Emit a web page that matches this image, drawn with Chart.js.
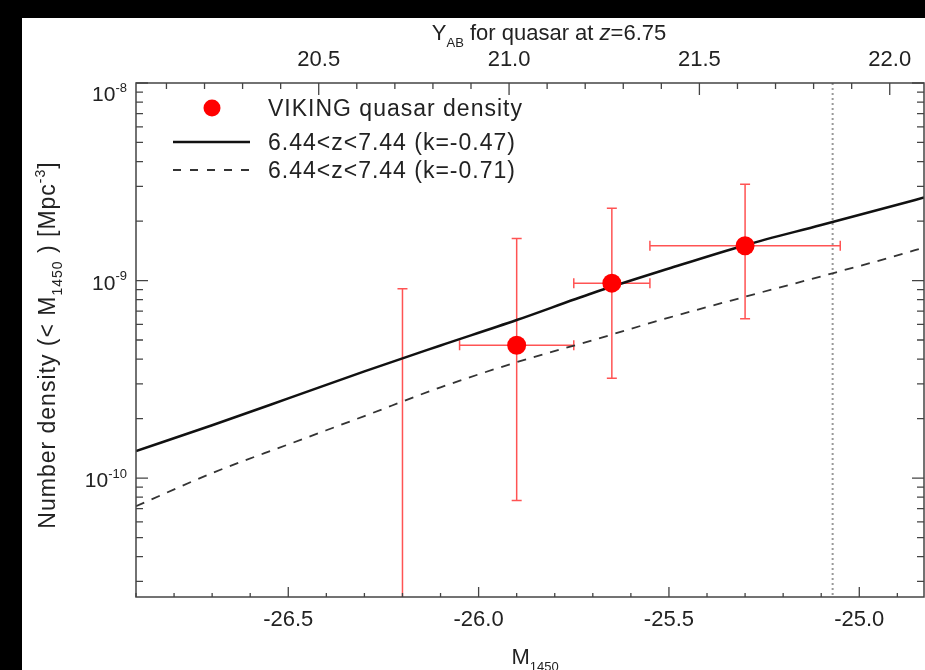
<!DOCTYPE html>
<html>
<head>
<meta charset="utf-8">
<script src="https://cdn.jsdelivr.net/npm/chart.js@4.4.0/dist/chart.umd.min.js"></script>
<style>
html, body { margin: 0; padding: 0; background: #000; }
canvas { display: block; }
</style>
</head>
<body>
<canvas id="lfChart" width="925" height="670"></canvas>
<script>
// M1450 grid for the model curves
const mGrid = [-26.9, -26.7, -26.5, -26.3, -26.1, -25.9, -25.7, -25.5, -25.3, -25.1, -24.9, -24.83];
// cumulative number density, k = -0.47
const densK047 = [1.37e-10, 1.85e-10, 2.53e-10, 3.47e-10, 4.69e-10, 6.31e-10, 8.65e-10, 1.15e-9, 1.51e-9, 1.91e-9, 2.42e-9, 2.63e-9];
// cumulative number density, k = -0.71
const densK071 = [7.2e-11, 1.06e-10, 1.48e-10, 2.06e-10, 2.88e-10, 3.86e-10, 4.99e-10, 6.49e-10, 8.28e-10, 1.05e-9, 1.34e-9, 1.47e-9];

// VIKING quasar densities with error ranges
const vikM = [-26.2, -25.9, -25.65, -25.3];
const vikDens = [1.5e-11, 4.7e-10, 9.7e-10, 1.5e-9];
const vikMLo = [-26.2, -26.05, -25.75, -25.55];
const vikMHi = [-26.2, -25.75, -25.55, -25.05];
const vikDensLo = [1e-12, 7.7e-11, 3.2e-10, 6.4e-10];
const vikDensHi = [9.1e-10, 1.63e-9, 2.32e-9, 3.07e-9];

// survey limit
const limitM = -25.07;

// axis ranges and tick labels
const xMin = -26.9, xMax = -24.83;
const yMin = 2.5e-11, yMax = 1e-8;
const yabOffset = 46.92;            // Y_AB = M1450 + offset at z=6.75
const yDecades = [-8, -9, -10];

const legendLabels = ['VIKING quasar density', '6.44<z<7.44 (k=-0.47)', '6.44<z<7.44 (k=-0.71)'];

const FONT = '"Liberation Sans", Arial, Helvetica, sans-serif';
const INK = '#222';

// text with sub/superscripts, parts = [{t, s:'sub'|'sup', i:italic}]
function richText(ctx, parts, x, y, size, align, spacing) {
  const small = Math.round(size * 0.6);
  const fontOf = p => (p.i ? 'italic ' : '') + (p.s ? small : size) + 'px ' + FONT;
  ctx.letterSpacing = (spacing || 0) + 'px';
  let w = 0;
  parts.forEach(p => { ctx.font = fontOf(p); p.w = ctx.measureText(p.t).width; w += p.w; });
  let cx = align === 'center' ? x - w / 2 : align === 'right' ? x - w : x;
  ctx.textAlign = 'left';
  ctx.textBaseline = 'alphabetic';
  parts.forEach(p => {
    ctx.font = fontOf(p);
    const dy = p.s === 'sub' ? size * 0.3 : p.s === 'sup' ? -size * 0.45 : 0;
    ctx.fillText(p.t, cx, y + dy);
    cx += p.w;
  });
  ctx.letterSpacing = '0px';
}

const toXY = (xs, ys) => xs.map((x, i) => ({ x: x, y: ys[i] }));

// error bars and limit line, under the markers
const errorBars = {
  id: 'errorBars',
  beforeDatasetsDraw(chart) {
    const { ctx, chartArea: a, scales } = chart;
    const sx = scales.x, sy = scales.y;
    ctx.save();
    ctx.beginPath();
    ctx.rect(a.left, a.top, a.right - a.left, a.bottom - a.top);
    ctx.clip();

    // limit line
    ctx.strokeStyle = '#999';
    ctx.lineWidth = 2;
    ctx.setLineDash([2, 3]);
    const lx = sx.getPixelForValue(limitM);
    ctx.beginPath();
    ctx.moveTo(lx, a.top);
    ctx.lineTo(lx, a.bottom);
    ctx.stroke();
    ctx.setLineDash([]);

    ctx.strokeStyle = 'rgba(255, 40, 40, 0.8)';
    ctx.lineWidth = 1.5;
    const cap = 5;
    vikM.forEach((m, i) => {
      const px = sx.getPixelForValue(m);
      const py = sy.getPixelForValue(vikDens[i]);
      const yTop = sy.getPixelForValue(vikDensHi[i]);
      const yBot = sy.getPixelForValue(vikDensLo[i]);
      ctx.beginPath();
      ctx.moveTo(px, yTop); ctx.lineTo(px, yBot);
      ctx.moveTo(px - cap, yTop); ctx.lineTo(px + cap, yTop);
      ctx.moveTo(px - cap, yBot); ctx.lineTo(px + cap, yBot);
      if (vikMHi[i] > vikMLo[i]) {
        const xl = sx.getPixelForValue(vikMLo[i]);
        const xr = sx.getPixelForValue(vikMHi[i]);
        ctx.moveTo(xl, py); ctx.lineTo(xr, py);
        ctx.moveTo(xl, py - cap); ctx.lineTo(xl, py + cap);
        ctx.moveTo(xr, py - cap); ctx.lineTo(xr, py + cap);
      }
      ctx.stroke();
    });
    ctx.restore();
  }
};

// white panel behind the plot
const panel = {
  id: 'panel',
  beforeDraw(chart) {
    const ctx = chart.ctx;
    ctx.save();
    ctx.fillStyle = '#000';
    ctx.fillRect(0, 0, chart.width, chart.height);
    ctx.fillStyle = '#fff';
    ctx.fillRect(22, 18, chart.width - 22, chart.height - 18);
    ctx.restore();
  }
};

// frame, inward ticks, log labels, titles and legend
const frame = {
  id: 'frame',
  afterDraw(chart) {
    const { ctx, chartArea: a, scales } = chart;
    const sx = scales.x, sx2 = scales.x2, sy = scales.y;
    ctx.save();
    ctx.strokeStyle = '#444';
    ctx.lineWidth = 1.5;
    ctx.strokeRect(a.left, a.top, a.right - a.left, a.bottom - a.top);

    ctx.lineWidth = 1.3;
    ctx.beginPath();
    for (let v = Math.ceil(xMin * 10); v <= xMax * 10; v++) {
      const px = sx.getPixelForValue(v / 10);
      const len = v % 5 === 0 ? 10 : 4;
      ctx.moveTo(px, a.bottom); ctx.lineTo(px, a.bottom - len);
    }
    for (let v = Math.ceil((xMin + yabOffset) * 10); v <= (xMax + yabOffset) * 10; v++) {
      const px = sx2.getPixelForValue(v / 10);
      const len = v % 5 === 0 ? 12 : 6;
      ctx.moveTo(px, a.top); ctx.lineTo(px, a.top + len);
    }
    for (let e = -11; e <= -8; e++) {
      for (let k = 1; k <= 9; k++) {
        const val = k * Math.pow(10, e);
        if (val < yMin * 0.999 || val > yMax * 1.001) continue;
        const py = sy.getPixelForValue(val);
        const len = k === 1 ? 12 : 7;
        ctx.moveTo(a.left, py); ctx.lineTo(a.left + len, py);
        ctx.moveTo(a.right, py); ctx.lineTo(a.right - len, py);
      }
    }
    ctx.stroke();

    ctx.fillStyle = INK;
    // decade labels
    yDecades.forEach(e => {
      const py = sy.getPixelForValue(Math.pow(10, e));
      richText(ctx, [{ t: '10' }, { t: String(e), s: 'sup' }], 127, Math.max(py, a.top + 9) + 9, 21, 'right');
    });

    // axis titles
    richText(ctx, [{ t: 'M' }, { t: '1450', s: 'sub' }], 535, 664, 22, 'center');
    richText(ctx, [{ t: 'Y' }, { t: 'AB', s: 'sub' }, { t: ' for quasar at ' }, { t: 'z', i: true }, { t: '=6.75' }],
      549, 40, 22, 'center');
    ctx.save();
    ctx.translate(55, 345);
    ctx.rotate(-Math.PI / 2);
    richText(ctx, [{ t: 'Number density (< M' }, { t: '1450', s: 'sub' }, { t: ' ) [Mpc' }, { t: '-3', s: 'sup' }, { t: ']' }],
      0, 0, 23, 'center', 1);
    ctx.restore();

    // legend
    ctx.fillStyle = '#ff0000';
    ctx.beginPath();
    ctx.arc(212, 108, 8.5, 0, Math.PI * 2);
    ctx.fill();
    ctx.strokeStyle = '#111';
    ctx.lineWidth = 2.5;
    ctx.beginPath();
    ctx.moveTo(173, 142); ctx.lineTo(250, 142);
    ctx.stroke();
    ctx.strokeStyle = '#333';
    ctx.lineWidth = 1.8;
    ctx.setLineDash([8, 9]);
    ctx.beginPath();
    ctx.moveTo(173, 170); ctx.lineTo(250, 170);
    ctx.stroke();
    ctx.setLineDash([]);
    ctx.fillStyle = INK;
    [108, 142, 170].forEach((y, i) => richText(ctx, [{ t: legendLabels[i] }], 268, y + 8, 23, 'left', 1));
    ctx.restore();
  }
};

// no extra side padding on the horizontal axes
const fitX = h => s => { s.height = h; s.paddingLeft = 0; s.paddingRight = 0; };

const ctx = document.getElementById('lfChart').getContext('2d');
const chart = new Chart(ctx, {
  type: 'scatter',
  data: {
    datasets: [
      {
        label: legendLabels[0],
        data: toXY(vikM, vikDens),
        pointRadius: 9.5,
        pointBackgroundColor: '#ff0000',
        pointBorderWidth: 0,
        showLine: false
      },
      {
        label: legendLabels[1],
        data: toXY(mGrid, densK047),
        showLine: true,
        borderColor: '#111',
        borderWidth: 2.5,
        pointRadius: 0,
        cubicInterpolationMode: 'monotone'
      },
      {
        label: legendLabels[2],
        data: toXY(mGrid, densK071),
        showLine: true,
        borderColor: '#333',
        borderWidth: 1.8,
        borderDash: [9, 8],
        pointRadius: 0,
        cubicInterpolationMode: 'monotone'
      }
    ]
  },
  options: {
    responsive: false,
    animation: false,
    events: [],
    layout: { autoPadding: false, padding: { left: 0, right: 1, top: 0, bottom: 0 } },
    plugins: { legend: { display: false }, tooltip: { enabled: false } },
    scales: {
      x: {
        type: 'linear',
        position: 'bottom',
        min: xMin,
        max: xMax,
        grid: { display: false, drawTicks: false },
        border: { display: false },
        ticks: {
          stepSize: 0.5,
          includeBounds: false,
          padding: 10,
          color: INK,
          font: { family: FONT, size: 22 },
          maxRotation: 0,
          callback: v => v.toFixed(1)
        },
        afterFit: fitX(73)
      },
      x2: {
        type: 'linear',
        position: 'top',
        min: xMin + yabOffset,
        max: xMax + yabOffset,
        grid: { display: false, drawTicks: false },
        border: { display: false },
        ticks: {
          stepSize: 0.5,
          includeBounds: false,
          padding: 10,
          color: INK,
          font: { family: FONT, size: 22 },
          maxRotation: 0,
          callback: v => v.toFixed(1)
        },
        afterFit: fitX(83)
      },
      y: {
        type: 'logarithmic',
        min: yMin,
        max: yMax,
        grid: { display: false, drawTicks: false },
        border: { display: false },
        ticks: { display: false },
        afterFit: s => { s.width = 136; }
      }
    }
  },
  plugins: [panel, errorBars, frame]
});
</script>
</body>
</html>
